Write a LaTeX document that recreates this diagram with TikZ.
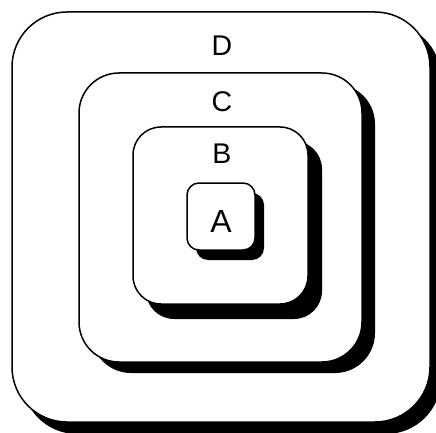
\documentclass[tikz,border=0pt]{standalone}
\usepackage{fontspec}
\setmainfont{Liberation Sans}
\begin{document}
\begin{tikzpicture}[x=1pt,y=-1pt,
  boxface/.style={draw=black,fill=white,line width=1.5pt},
  boxshadow/.style={fill=black,draw=none},
  lbl/.style={font=\fontsize{28.5}{30}\selectfont,inner sep=0pt}]
\useasboundingbox (0,0) rectangle (436,433);
\clip (0,0) rectangle (436,433);
\fill[white] (0,0) rectangle (436,433);
% D
\fill[boxshadow,rounded corners=55pt] (22,23) rectangle (441,434);
\draw[boxface,rounded corners=55pt] (12,12) rectangle (430,422);
% C
\fill[boxshadow,rounded corners=40pt] (91,84) rectangle (375,373);
\draw[boxface,rounded corners=40pt] (79,73) rectangle (362,362);
% B
\fill[boxshadow,rounded corners=28pt] (146,141) rectangle (322,319);
\draw[boxface,rounded corners=28pt] (133,127) rectangle (308,304);
% A
\fill[boxshadow,rounded corners=12pt] (196,193) rectangle (264,260);
\draw[boxface,rounded corners=12pt] (187,183) rectangle (255,250);
\node[lbl] (D) at (222,46) {D};
\node[lbl] (C) at (222,101.5) {C};
\node[lbl] (B) at (222,153.5) {B};
\node[lbl,font=\fontsize{32}{34}\selectfont] (A) at (221,221) {A};
\end{tikzpicture}
\end{document}
